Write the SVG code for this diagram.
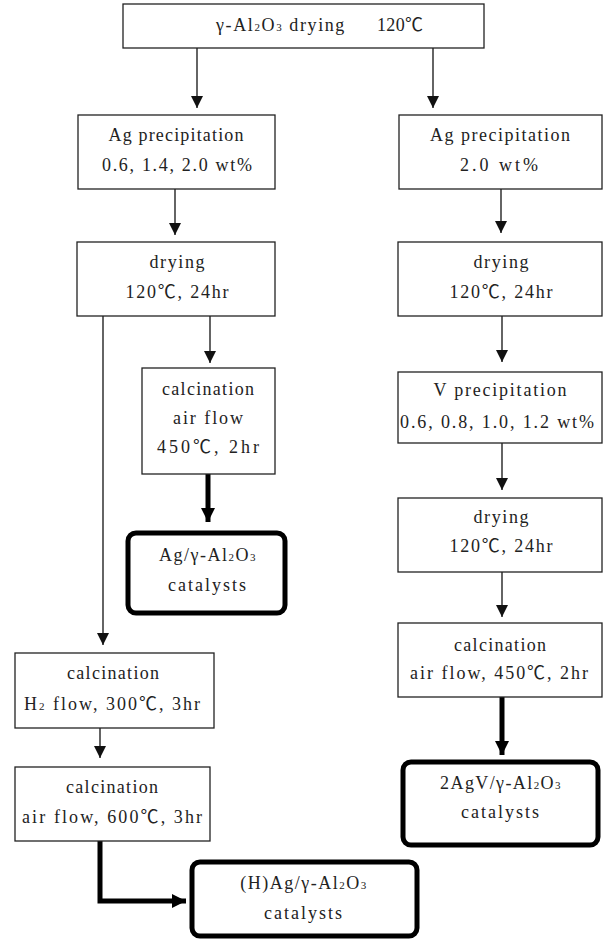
<svg xmlns="http://www.w3.org/2000/svg" width="605" height="939" viewBox="0 0 605 939">
<style>
.box{fill:#fff;stroke:#222;stroke-width:1.3}
.cat{fill:#fff;stroke:#000;stroke-width:5}
text{font-family:"Liberation Serif","Noto Sans CJK KR",serif;font-size:18px;fill:#222;text-anchor:middle;dominant-baseline:central}
.sub{font-size:11px}
.thin{stroke:#111;stroke-width:1.3;fill:none}
.thick{stroke:#000;stroke-width:5;fill:none}
</style>
<defs>
<marker id="ah" markerUnits="userSpaceOnUse" markerWidth="14" markerHeight="12" refX="12" refY="6" orient="auto">
<path d="M0,0 L12,6 L0,12 Z" fill="#111"/>
</marker>
<marker id="ahk" markerUnits="userSpaceOnUse" markerWidth="16" markerHeight="16" refX="14" refY="7" orient="auto">
<path d="M0,0 L14,7 L0,14 Z" fill="#000"/>
</marker>
</defs>
<g id="connectors">
<line class="thin" x1="197" y1="48" x2="197" y2="108" marker-end="url(#ah)"/>
<line class="thin" x1="433" y1="48" x2="433" y2="108" marker-end="url(#ah)"/>
<line class="thin" x1="175" y1="189" x2="175" y2="235" marker-end="url(#ah)"/>
<line class="thin" x1="210" y1="316" x2="210" y2="363" marker-end="url(#ah)"/>
<line class="thin" x1="103" y1="316" x2="103" y2="645" marker-end="url(#ah)"/>
<line class="thin" x1="100" y1="728" x2="100" y2="758" marker-end="url(#ah)"/>
<line class="thin" x1="501" y1="189" x2="501" y2="233" marker-end="url(#ah)"/>
<line class="thin" x1="502" y1="316" x2="502" y2="362" marker-end="url(#ah)"/>
<line class="thin" x1="502" y1="443" x2="502" y2="490" marker-end="url(#ah)"/>
<line class="thin" x1="502" y1="572" x2="502" y2="617" marker-end="url(#ah)"/>
<line class="thick" x1="208" y1="474" x2="208" y2="522" marker-end="url(#ahk)"/>
<line class="thick" x1="502" y1="697" x2="502" y2="755" marker-end="url(#ahk)"/>
<polyline class="thick" points="100,841 100,901 186,901" marker-end="url(#ahk)"/>
</g>
<g id="n_top">
<rect class="box" x="123" y="4" width="361" height="44"/>
<text x="281" y="25" letter-spacing="1.6">γ-Al<tspan class="sub" dy="2">2</tspan><tspan dy="-2">O</tspan><tspan class="sub" dy="2">3</tspan><tspan dy="-2"> drying</tspan></text>
<text x="400" y="25" textLength="46" lengthAdjust="spacing">120℃</text>
</g>
<g id="n_agL">
<rect class="box" x="78" y="115" width="197" height="74"/>
<text x="176" y="135" textLength="135" lengthAdjust="spacing">Ag precipitation</text>
<text x="177" y="165" textLength="150" lengthAdjust="spacing">0.6, 1.4, 2.0 wt%</text>
</g>
<g id="n_agR">
<rect class="box" x="399" y="115" width="203" height="74"/>
<text x="500" y="135" textLength="140" lengthAdjust="spacing">Ag precipitation</text>
<text x="499" y="165" textLength="78" lengthAdjust="spacing">2.0 wt%</text>
</g>
<g id="n_dryL">
<rect class="box" x="77" y="242" width="198" height="74"/>
<text x="177" y="262" textLength="55" lengthAdjust="spacing">drying</text>
<text x="177" y="292" textLength="103" lengthAdjust="spacing">120℃, 24hr</text>
</g>
<g id="n_calcL">
<rect class="box" x="142" y="368" width="133" height="106"/>
<text x="208" y="389" textLength="92" lengthAdjust="spacing">calcination</text>
<text x="208" y="418" textLength="70" lengthAdjust="spacing">air flow</text>
<text x="208" y="447" textLength="102" lengthAdjust="spacing">450℃, 2hr</text>
</g>
<g id="n_catAg">
<rect class="cat" x="128" y="533" width="157" height="80" rx="8"/>
<text x="208" y="555" letter-spacing="1.5">Ag/γ-Al<tspan class="sub" dy="2">2</tspan><tspan dy="-2">O</tspan><tspan class="sub" dy="2">3</tspan></text>
<text x="207" y="585" textLength="78" lengthAdjust="spacing">catalysts</text>
</g>
<g id="n_h2">
<rect class="box" x="15" y="653" width="199" height="75"/>
<text x="113" y="673" textLength="92" lengthAdjust="spacing">calcination</text>
<text x="113" y="704" letter-spacing="2">H<tspan class="sub" dy="2">2</tspan><tspan dy="-2"> flow, 300℃, 3hr</tspan></text>
</g>
<g id="n_air600">
<rect class="box" x="15" y="767" width="195" height="74"/>
<text x="112" y="787" textLength="92" lengthAdjust="spacing">calcination</text>
<text x="112" y="817" textLength="180" lengthAdjust="spacing">air flow, 600℃, 3hr</text>
</g>
<g id="n_catH">
<rect class="cat" x="192" y="862" width="225" height="74" rx="8"/>
<text x="304" y="883" letter-spacing="1.5">(H)Ag/γ-Al<tspan class="sub" dy="2">2</tspan><tspan dy="-2">O</tspan><tspan class="sub" dy="2">3</tspan></text>
<text x="303" y="913" textLength="78" lengthAdjust="spacing">catalysts</text>
</g>
<g id="n_dryR">
<rect class="box" x="398" y="242" width="204" height="74"/>
<text x="501" y="262" textLength="55" lengthAdjust="spacing">drying</text>
<text x="501" y="292" textLength="103" lengthAdjust="spacing">120℃, 24hr</text>
</g>
<g id="n_V">
<rect class="box" x="398" y="372" width="204" height="71"/>
<text x="500" y="390" textLength="133" lengthAdjust="spacing">V precipitation</text>
<text x="497" y="422" textLength="194" lengthAdjust="spacing">0.6, 0.8, 1.0, 1.2 wt%</text>
</g>
<g id="n_dryR2">
<rect class="box" x="398" y="498" width="204" height="74"/>
<text x="501" y="517" textLength="55" lengthAdjust="spacing">drying</text>
<text x="501" y="546" textLength="103" lengthAdjust="spacing">120℃, 24hr</text>
</g>
<g id="n_calcR">
<rect class="box" x="398" y="623" width="204" height="74"/>
<text x="500" y="645" textLength="92" lengthAdjust="spacing">calcination</text>
<text x="499" y="673" textLength="178" lengthAdjust="spacing">air flow, 450℃, 2hr</text>
</g>
<g id="n_catV">
<rect class="cat" x="403" y="762" width="195" height="83" rx="8"/>
<text x="501" y="783" letter-spacing="1.4">2AgV/γ-Al<tspan class="sub" dy="2">2</tspan><tspan dy="-2">O</tspan><tspan class="sub" dy="2">3</tspan></text>
<text x="500" y="812" textLength="78" lengthAdjust="spacing">catalysts</text>
</g>
</svg>
